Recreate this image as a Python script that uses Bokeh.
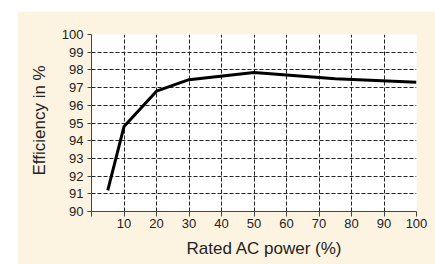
from bokeh.plotting import figure
from bokeh.models import Range1d, FixedTicker, Title, Spacer
from bokeh.layouts import row, column
from bokeh.embed import file_html
from bokeh.resources import INLINE

power_pct = [5, 10, 20, 30, 50, 75, 100]
efficiency = [91.2, 94.8, 96.8, 97.45, 97.85, 97.5, 97.3]
x_ticks = [0, 10, 20, 30, 40, 50, 60, 70, 80, 90, 100]
x_tick_labels = {0: "", 10: "10", 20: "20", 30: "30", 40: "40", 50: "50",
                 60: "60", 70: "70", 80: "80", 90: "90", 100: "100"}
y_ticks = [90, 91, 92, 93, 94, 95, 96, 97, 98, 99, 100]
x_title = "Rated AC power (%)"
y_title = "Efficiency in %"

BEIGE = "#fdf3e1"
FONT = "Liberation Sans"

p = figure(width=418, height=253, output_backend="svg", toolbar_location=None,
           x_range=Range1d(0, 100), y_range=Range1d(90, 100),
           min_border_left=74, min_border_right=19, min_border_top=23,
           min_border_bottom=52)
p.border_fill_color = BEIGE
p.background_fill_color = "white"
p.outline_line_color = None

p.line(power_pct, efficiency, line_color="black", line_width=3)

for ax in (p.xaxis, p.yaxis):
    ax.axis_line_color = "#444444"
    ax.axis_line_width = 1
    ax.major_tick_line_color = "#444444"
    ax.major_tick_in = 0
    ax.major_tick_out = 5
    ax.minor_tick_line_color = None
    ax.major_label_text_font = FONT
    ax.major_label_text_font_size = "13px"
    ax.major_label_text_color = "#222222"

p.xaxis.ticker = FixedTicker(ticks=x_ticks)
p.xaxis.major_label_overrides = x_tick_labels
p.xaxis.major_label_standoff = 2
p.yaxis.ticker = FixedTicker(ticks=y_ticks)
p.yaxis.major_tick_out = 4
p.yaxis.major_label_standoff = 4

p.xgrid.ticker = FixedTicker(ticks=x_ticks[1:])
p.ygrid.ticker = FixedTicker(ticks=y_ticks[1:])
for g in (p.xgrid, p.ygrid):
    g.grid_line_color = "#222222"
    g.grid_line_dash = "4 2"
    g.grid_line_width = 1
    g.grid_line_alpha = 1

p.add_layout(Title(text=x_title, align="left", offset=95, standoff=13,
                   text_font=FONT, text_font_size="17px",
                   text_font_style="normal", text_color="#222222"), "below")
p.add_layout(Title(text=y_title, align="left", offset=36, standoff=19,
                   text_font=FONT, text_font_size="17px",
                   text_font_style="normal", text_color="#222222"), "left")

layout = column(Spacer(height=11), row(Spacer(width=17), p))
open("out.html", "w").write(file_html(layout, INLINE))
